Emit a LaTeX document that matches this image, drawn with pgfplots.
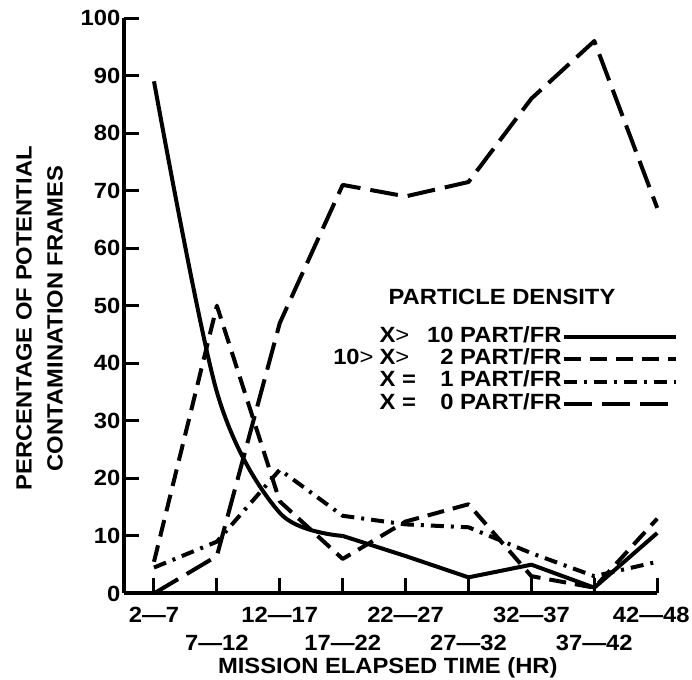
\documentclass[border=0pt]{standalone}
\usepackage{fontspec}
\setmainfont{Liberation Sans}[FakeStretch=1.08]
\usepackage{pgfplots}
\pgfplotsset{compat=1.18}

\newcommand{\lf}{\fontsize{11}{14}\selectfont\bfseries}
\newcommand{\hi}[1]{\strut #1}
\newcommand{\lo}[1]{\strut\\\strut #1}
\newcommand{\ent}[3]{\makebox[24pt][r]{#1}\hspace{3pt}\makebox[37pt][l]{#2\hfill #3}\ PART/FR}

\begin{document}
\begin{tikzpicture}
\begin{axis}[
  scale only axis, width=266.5pt, height=287.5pt,
  xmin=-0.48, xmax=8, ymin=0, ymax=100,
  axis lines=left, axis line style={-, line width=2pt},
  clip=false,
  xtick={0,...,8},
  xticklabels={\hi{2—7},\lo{7—12},\hi{12—17},\lo{17—22},\hi{22—27},\lo{27—32},\hi{32—37},\lo{37—42},\hi{42—48\hspace*{6pt}}},
  ytick={0,10,...,100},
  tick align=inside, major tick length=7.5pt,
  every tick/.style={black, line width=1.5pt},
  tick label style={font=\lf},
  /pgf/number format/assume math mode=true,
  xticklabel style={align=center, inner sep=0pt, anchor=north, yshift=-4.7pt},
  yticklabel style={inner sep=1.5pt},
  xlabel={MISSION ELAPSED TIME (HR)},
  ylabel={PERCENTAGE OF POTENTIAL\\CONTAMINATION FRAMES},
  xlabel style={font=\lf, at={(axis description cs:0.495,-0.1296)}, anchor=center},
  ylabel style={font=\fontsize{11}{15.5}\selectfont\bfseries, at={(axis description cs:-0.158,0.478)}, anchor=center, align=center},
  legend style={at={(axis description cs:1.039,0.466)}, anchor=north east, draw=none, fill=none,
    inner sep=0pt, font=\lf, row sep=0pt, nodes={inner sep=0pt, text height=8.2pt, text depth=3pt},
    cells={anchor=east}},
  legend plot pos=right,
  legend image code/.code={\draw[#1] (2pt,0pt) -- (58pt,0pt);},
]
% X > 10
\addplot[black, line width=2pt, smooth, forget plot] coordinates {(0,89) (1,35) (2,14) (3,10)};
\addplot[black, line width=2pt, line join=round] coordinates {(3,10) (4,6.5) (5,2.8) (6,5) (7,1) (8,10.5)};
\addlegendentry{\ent{}{X{\mdseries >}}{10}}
% 10 > X > 2
\addplot[black, line width=2pt, line join=round, dash pattern=on 8.5pt off 4.5pt] coordinates {
  (0,5.5) (1,50) (2,16) (3,6) (4,12.5) (5,15.5) (6,3) (7,1) (8,13)};
\addlegendentry{\ent{10{\mdseries >}}{X{\mdseries >}}{2}}
% X = 1
\addplot[black, line width=2pt, line join=round, dash pattern=on 6.5pt off 3.5pt on 1.5pt off 3.5pt] coordinates {
  (0,4.5) (1,9) (2,21.5) (3,13.5) (4,12) (5,11.5) (6,7) (7,3) (8,5.5)};
\addlegendentry{\ent{}{X =}{1}}
% X = 0
\addplot[black, line width=2pt, line join=round, dash pattern=on 14pt off 5pt] coordinates {
  (0,0) (1,6.5) (2,47) (3,71) (4,69) (5,71.5) (6,86) (7,96) (8,67)};
\addlegendentry{\ent{}{X =}{0}}

\node[font=\lf] at (axis description cs:0.709,0.515) {PARTICLE DENSITY};
\coordinate (bbl) at (axis cs:-2.448,-14.96);
\coordinate (btr) at (axis cs:8.553,103.13);
\end{axis}
\pgfresetboundingbox
\path[use as bounding box] (bbl) rectangle (btr);
\end{tikzpicture}
\end{document}
